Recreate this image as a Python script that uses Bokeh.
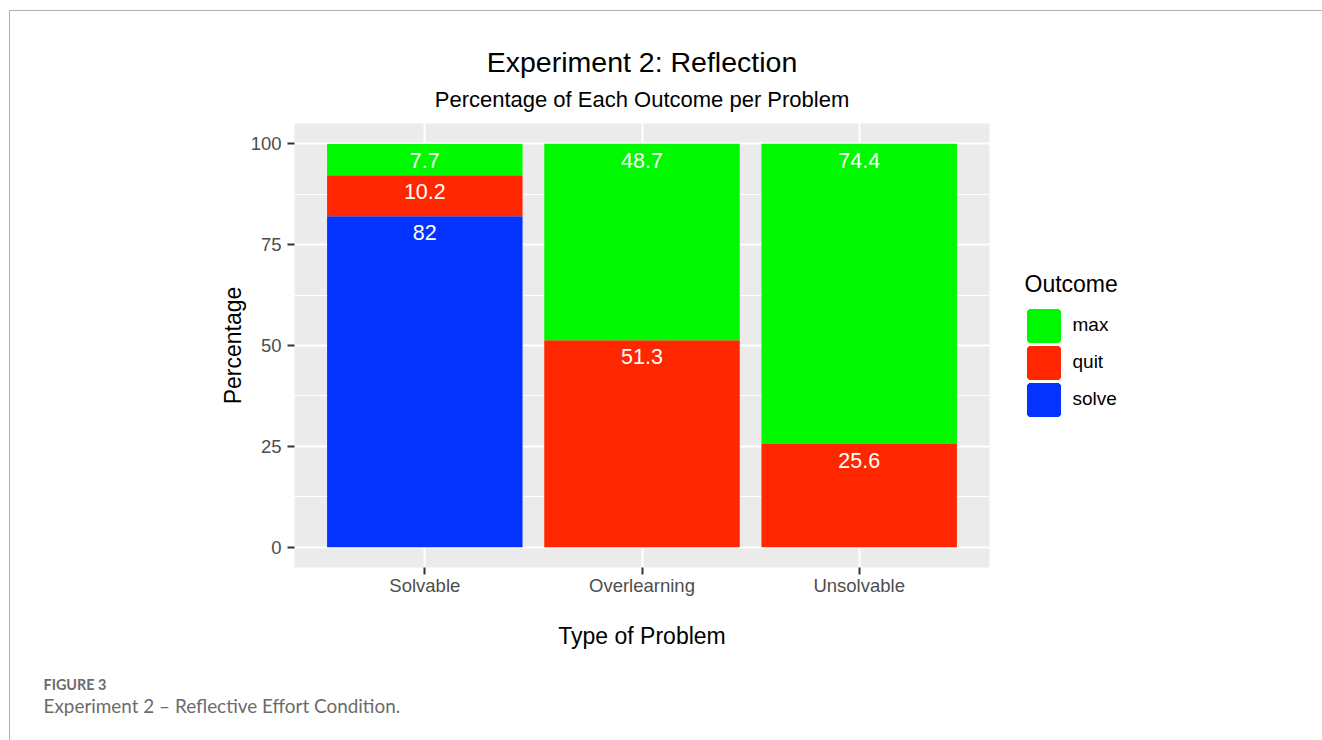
from bokeh.plotting import figure
from bokeh.models import (Range1d, SingleIntervalTicker, FixedTicker, LinearAxis, Grid,
                          Legend, LegendItem, ColumnDataSource, Label, BoxAnnotation,
                          InlineStyleSheet)
from bokeh.embed import file_html
from bokeh.resources import INLINE
from bokeh.core.properties import value

# ---- data ----
problems = ["Solvable", "Overlearning", "Unsolvable"]
outcomes = ["solve", "quit", "max"]          # stacking order, bottom to top
solve_pct = [82.0, 0.0, 0.0]
quit_pct = [10.2, 51.3, 25.6]
max_pct = [7.7, 48.7, 74.4]
outcome_colors = ["#0433FF", "#FF2600", "#00F900"]
y_tick_interval = 25

title_text = "Experiment 2: Reflection"
subtitle_text = "Percentage of Each Outcome per Problem"
x_title = "Type of Problem"
y_title = "Percentage"
legend_title = "Outcome"
caption1 = "FIGURE 3"
caption2 = "Experiment 2 \u2013 Reflective Effort Condition."

FONT = "Liberation Sans"

# ---- layout (pixels) ----
W, H = 1322, 740
PANEL_L, PANEL_R, PANEL_T, PANEL_B = 294, 989, 123, 567
n = len(problems)
X0, X1 = 0.4, n + 0.6          # panel extent in category units (ggplot style)
Y0, Y1 = -5.0, 105.0           # panel extent in value units
kx = (PANEL_R - PANEL_L) / (X1 - X0)
ky = (PANEL_B - PANEL_T) / (Y1 - Y0)

xpos = list(range(1, n + 1))
src = ColumnDataSource(dict(x=xpos, solve=solve_pct, quit=quit_pct, max=max_pct))

p = figure(width=W, height=H, output_backend="svg", toolbar_location=None,
           x_axis_type=None, y_axis_type=None,
           x_range=Range1d(X0 - PANEL_L / kx, X0 + (W - PANEL_L) / kx),
           y_range=Range1d(Y0 - (H - PANEL_B) / ky, Y1 + PANEL_T / ky),
           min_border=0, min_border_left=0, min_border_right=0,
           min_border_top=0, min_border_bottom=0)
p.background_fill_color = "white"
p.border_fill_color = "white"
p.outline_line_color = None

# grey panel
p.add_layout(BoxAnnotation(left=X0, right=X1, bottom=Y0, top=Y1, fill_color="#EBEBEB",
                           fill_alpha=1, line_color=None, level="image"))

# tickers, grids, axes
yticker = SingleIntervalTicker(interval=y_tick_interval, num_minor_ticks=2)
xticker = FixedTicker(ticks=xpos)

p.add_layout(Grid(dimension=0, ticker=xticker, grid_line_color="white", grid_line_width=2))
p.add_layout(Grid(dimension=1, ticker=yticker, grid_line_color="white", grid_line_width=2,
                  minor_grid_line_color="white", minor_grid_line_width=1))

xaxis = LinearAxis(ticker=xticker, fixed_location=Y0, bounds=(X0, X1),
                   major_label_overrides={x: lab for x, lab in zip(xpos, problems)},
                   axis_label=x_title)
yaxis = LinearAxis(ticker=yticker, fixed_location=X0, bounds=(Y0, Y1), axis_label=y_title)
for ax in (xaxis, yaxis):
    ax.axis_line_color = None
    ax.major_tick_line_color = "#333333"
    ax.major_tick_line_width = 2
    ax.major_tick_out = 7
    ax.major_tick_in = 0
    ax.minor_tick_out = 0
    ax.minor_tick_in = 0
    ax.major_label_text_font = FONT
    ax.major_label_text_font_size = "18.5px"
    ax.major_label_text_color = "#4D4D4D"
    ax.axis_label_text_font = FONT
    ax.axis_label_text_font_size = "23px"
    ax.axis_label_text_font_style = "normal"
    ax.axis_label_text_color = "black"
xaxis.major_label_standoff = 0
xaxis.axis_label_standoff = 24
yaxis.major_label_standoff = 6
yaxis.axis_label_standoff = 2
p.add_layout(xaxis, "below")
p.add_layout(yaxis, "left")

# stacked bars
renderers = p.vbar_stack(outcomes, x="x", width=0.9, source=src,
                         fill_color=outcome_colors, line_color=None)

# value labels
lx, ly, lt = [], [], []
series = {"solve": solve_pct, "quit": quit_pct, "max": max_pct}
for i, xp in enumerate(xpos):
    bottom = 0.0
    for o in outcomes:
        v = series[o][i]
        if v > 0:
            top = bottom + v
            lx.append(xp)
            ly.append(top)
            lt.append(f"{v:g}")
            bottom = top
lab_src = ColumnDataSource(dict(x=lx, y=ly, t=lt))
p.text(x="x", y="y", text="t", source=lab_src, text_color="white",
       text_font=value(FONT), text_font_size="21.5px", text_align="center",
       text_baseline="middle", y_offset=16.5)

# legend keys: hidden copies of the stack, drawn with an outline so keys are full size
key_renderers = p.vbar_stack(outcomes, x="x", width=0.9, source=src,
                             fill_color=outcome_colors, line_color=outcome_colors,
                             line_width=4.4, visible=False)
items = [LegendItem(label=o, renderers=[r]) for o, r in zip(outcomes, key_renderers)][::-1]
legend = Legend(items=items, location=(1024.5, H - 417.5), glyph_width=37, glyph_height=37,
                spacing=0, label_standoff=11, label_text_font=FONT,
                label_text_font_size="19px", label_text_color="black",
                title=legend_title, title_text_font=FONT, title_text_font_size="23px",
                title_text_font_style="normal", title_text_color="black", title_standoff=9,
                padding=0, margin=0, border_line_color=None, background_fill_alpha=0,
                inactive_fill_alpha=0)
p.add_layout(legend)

# titles
xmid = (n + 1) / 2.0
p.add_layout(Label(x=xmid, y=Y1, y_offset=62, text=title_text, text_font=FONT,
                   text_font_size="28.5px", text_align="center", text_baseline="alphabetic",
                   text_color="black"))
p.add_layout(Label(x=xmid, y=Y1, y_offset=24, text=subtitle_text, text_font=FONT,
                   text_font_size="22px", text_align="center", text_baseline="alphabetic",
                   text_color="black"))

# caption
p.add_layout(Label(x=X0, y=Y0, x_offset=43 - PANEL_L, y_offset=-117, text=caption1,
                   text_font="Lato", text_font_size="14.4px", text_font_style="bold",
                   text_baseline="alphabetic", text_color="#6B6B6B"))
p.add_layout(Label(x=X0, y=Y0, x_offset=43 - PANEL_L, y_offset=-138, text=caption2,
                   text_font="Lato", text_font_size="18.9px",
                   text_baseline="alphabetic", text_color="#6B6B6B"))

# thin grey frame of the figure box (page decoration)
p.stylesheets = [InlineStyleSheet(css=(
    ":host::after { content: ''; position: absolute; left: 9px; top: 10px; "
    "right: 0; bottom: 0; border-left: 1.5px solid #B0B0B0; "
    "border-top: 1.5px solid #B0B0B0; pointer-events: none; z-index: 100; }"))]

open("out.html", "w").write(file_html(p, INLINE))
